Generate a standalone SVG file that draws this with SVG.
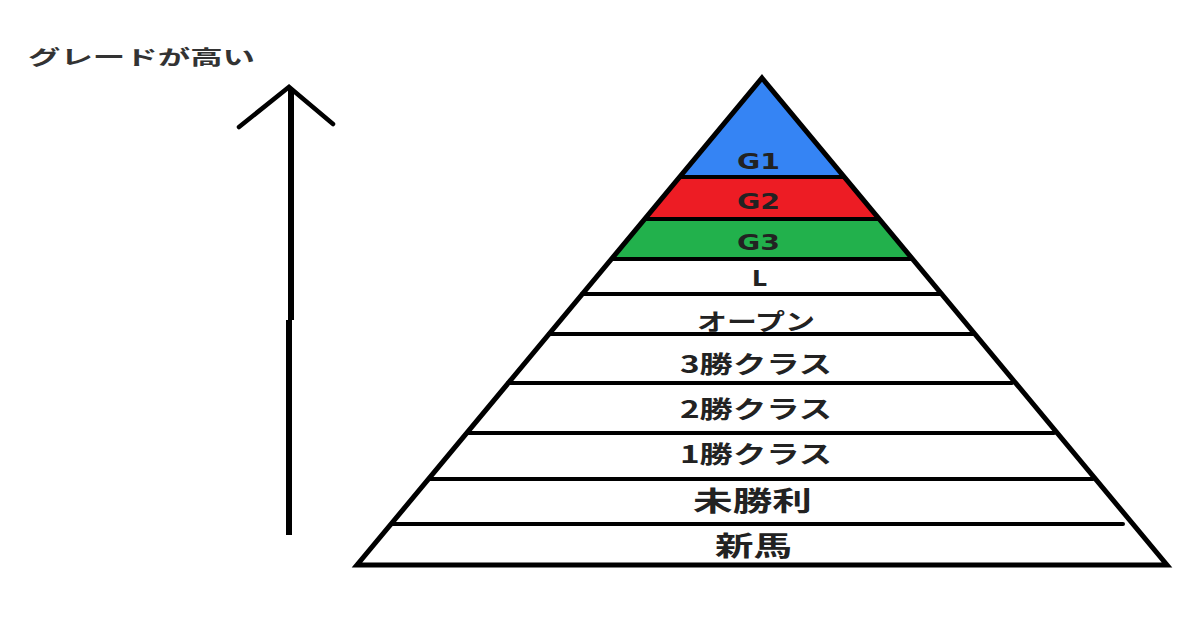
<svg xmlns="http://www.w3.org/2000/svg" width="1200" height="630" viewBox="0 0 1200 630">
<style>
.ln{stroke:#000;stroke-width:4;fill:none;stroke-linecap:round}
.out{stroke:#000;stroke-width:5;fill:none;stroke-linejoin:miter}
.g{font-family:"DejaVu Sans",Verdana,sans-serif;font-weight:bold;font-size:21px;fill:#222}
.j{font-family:"Noto Sans CJK JP",sans-serif;font-weight:bold;fill:#222}
</style>
<rect width="1200" height="630" fill="#fff"/>
<g id="header">
<text class="j" x="28" y="65" style="font-size:20px;fill:#333" textLength="227" lengthAdjust="spacingAndGlyphs">グレードが高い</text>
</g>
<g id="arrow" class="connectors">
<path d="M291,90 V320 M289,320 V535" style="stroke:#000;stroke-width:6;fill:none"/>
<path d="M239,127 L289,87 L333,124" style="stroke:#000;stroke-width:4.5;fill:none;stroke-linecap:round"/>
</g>
<g id="pyramid">
<g id="band-g1"><polygon points="762,78 844,177 680,177" fill="#3584F4"/></g>
<g id="band-g2"><polygon points="680,177 844,177 879,219 645,219" fill="#ED1C24"/></g>
<g id="band-g3"><polygon points="645,219 879,219 912,259 612,259" fill="#22B14C"/></g>
<g id="dividers">
<line class="ln" x1="680" y1="177" x2="844" y2="177"/>
<line class="ln" x1="645" y1="219" x2="879" y2="219"/>
<line class="ln" x1="612" y1="259" x2="912" y2="259"/>
<line class="ln" x1="582" y1="294" x2="940" y2="294"/>
<line class="ln" x1="549" y1="334" x2="973" y2="334"/>
<line class="ln" x1="508" y1="383" x2="1012" y2="383"/>
<line class="ln" x1="467" y1="433" x2="1054" y2="433"/>
<line class="ln" x1="429" y1="479" x2="1093" y2="479"/>
<line class="ln" x1="392" y1="524" x2="1123" y2="524"/>
</g>
<polygon class="out" points="762,78 1167,565 357,565"/>
<g id="labels">
<text class="g" x="737" y="169" textLength="43" lengthAdjust="spacingAndGlyphs">G1</text>
<text class="g" x="737" y="209" textLength="43" lengthAdjust="spacingAndGlyphs">G2</text>
<text class="g" x="737" y="250" textLength="43" lengthAdjust="spacingAndGlyphs">G3</text>
<text class="g" x="752" y="286" style="font-size:21px" textLength="15" lengthAdjust="spacingAndGlyphs">L</text>
<text class="j" x="697" y="330" font-size="23" textLength="118" lengthAdjust="spacingAndGlyphs">オープン</text>
<text class="j" x="680" y="373" font-size="24" textLength="152" lengthAdjust="spacingAndGlyphs">3勝クラス</text>
<text class="j" x="680" y="418" font-size="24" textLength="152" lengthAdjust="spacingAndGlyphs">2勝クラス</text>
<text class="j" x="680" y="463" font-size="24" textLength="152" lengthAdjust="spacingAndGlyphs">1勝クラス</text>
<text class="j" x="693" y="511" font-size="27" textLength="119" lengthAdjust="spacingAndGlyphs">未勝利</text>
<text class="j" x="715" y="556" font-size="27" textLength="77" lengthAdjust="spacingAndGlyphs">新馬</text>
</g>
</g>
</svg>
